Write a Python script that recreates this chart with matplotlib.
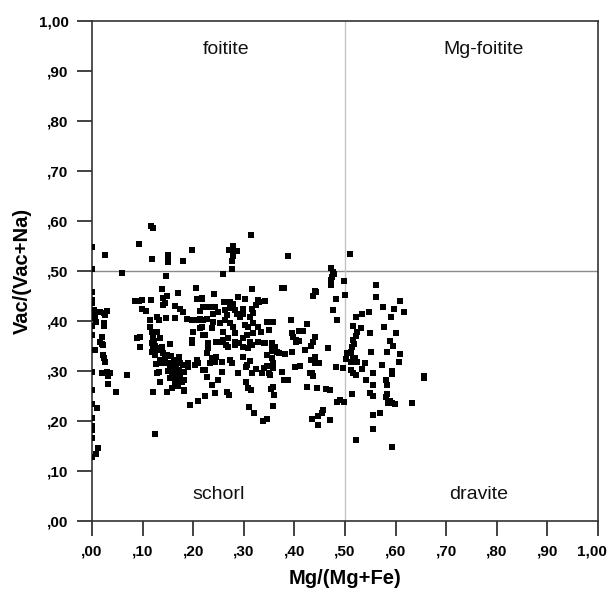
import numpy as np
import matplotlib
matplotlib.use("Agg")
import matplotlib.pyplot as plt
import matplotlib.transforms as mtransforms
from matplotlib.ticker import FuncFormatter

plt.rcParams['font.family'] = ['Liberation Sans', 'DejaVu Sans']

# ---- dati (Mg/(Mg+Fe), Vac/(Vac+Na)) ----
# colonna vicino a x = 0
pts_zero = [
    (0.0, 0.547), (0.0, 0.503), (0.0, 0.458), (0.0, 0.441), (0.0, 0.435),
    (0.003, 0.421), (0.005, 0.413), (0.016, 0.418), (0.006, 0.405), (0.007, 0.398),
    (0.0, 0.390), (0.0, 0.371), (0.005, 0.341), (0.0, 0.298), (0.0, 0.261),
    (0.0, 0.233), (0.009, 0.226), (0.0, 0.205), (0.0, 0.189), (0.0, 0.182),
    (0.0, 0.166), (0.012, 0.146), (0.0, 0.128), (0.008, 0.133),
]
# x tra 0.01 e 0.10
pts_low = [
    (0.026, 0.532), (0.024, 0.415), (0.029, 0.419), (0.026, 0.411), (0.024, 0.395),
    (0.024, 0.389), (0.019, 0.367), (0.016, 0.358), (0.022, 0.351), (0.019, 0.353),
    (0.022, 0.331), (0.024, 0.325), (0.026, 0.318), (0.019, 0.295), (0.029, 0.298),
    (0.036, 0.295), (0.031, 0.289), (0.032, 0.273), (0.047, 0.257), (0.059, 0.496),
    (0.069, 0.291), (0.085, 0.439), (0.098, 0.442), (0.092, 0.440), (0.088, 0.365),
    (0.095, 0.367), (0.095, 0.347), (0.098, 0.424),
]
# sopra la linea 0.50, parte sinistra
pts_top = [
    (0.092, 0.554), (0.116, 0.589), (0.121, 0.585), (0.119, 0.524), (0.151, 0.532),
    (0.151, 0.524), (0.151, 0.518), (0.179, 0.520), (0.197, 0.542), (0.146, 0.489),
    (0.124, 0.174),
]
# gruppo denso x 0.10 - 0.22
pts_left = [
    (0.138, 0.463), (0.169, 0.456), (0.205, 0.466), (0.116, 0.441), (0.140, 0.446),
    (0.148, 0.450), (0.141, 0.431), (0.145, 0.436), (0.165, 0.429), (0.207, 0.443),
    (0.217, 0.446), (0.107, 0.419), (0.128, 0.408), (0.132, 0.402), (0.146, 0.406),
    (0.174, 0.424), (0.180, 0.418), (0.165, 0.406), (0.187, 0.404), (0.197, 0.402),
    (0.207, 0.402), (0.213, 0.404), (0.220, 0.428), (0.213, 0.420), (0.115, 0.401),
    (0.115, 0.388), (0.118, 0.378), (0.128, 0.378), (0.121, 0.368), (0.134, 0.365),
    (0.200, 0.378), (0.197, 0.361), (0.217, 0.388), (0.220, 0.371), (0.213, 0.385),
    (0.118, 0.355), (0.121, 0.345), (0.118, 0.338), (0.125, 0.331), (0.130, 0.341),
    (0.138, 0.348), (0.141, 0.335), (0.148, 0.331), (0.156, 0.329), (0.171, 0.328),
    (0.154, 0.353), (0.134, 0.321), (0.138, 0.315), (0.126, 0.313), (0.151, 0.315),
    (0.159, 0.316), (0.165, 0.320), (0.174, 0.315), (0.180, 0.311), (0.190, 0.315),
    (0.167, 0.308), (0.161, 0.305), (0.171, 0.301), (0.177, 0.298), (0.164, 0.298),
    (0.154, 0.303), (0.158, 0.295), (0.167, 0.291), (0.174, 0.288), (0.182, 0.298),
    (0.161, 0.287), (0.167, 0.281), (0.177, 0.278), (0.164, 0.275), (0.159, 0.266),
    (0.182, 0.261), (0.128, 0.295), (0.132, 0.298), (0.134, 0.278), (0.121, 0.258),
    (0.148, 0.257), (0.194, 0.232), (0.210, 0.240), (0.197, 0.355), (0.207, 0.321),
    (0.210, 0.316), (0.204, 0.311), (0.220, 0.301), (0.184, 0.311), (0.190, 0.308),
    (0.182, 0.281), (0.182, 0.260), (0.160, 0.310), (0.170, 0.295), (0.155, 0.285),
    (0.170, 0.270), (0.150, 0.300), (0.162, 0.322), (0.145, 0.325), (0.122, 0.360),
    (0.125, 0.350), (0.128, 0.345), (0.120, 0.370),
]
# gruppo centrale x 0.22 - 0.46
pts_mid = [
    (0.314, 0.572), (0.278, 0.549), (0.271, 0.541), (0.280, 0.540), (0.286, 0.539),
    (0.278, 0.529), (0.276, 0.520), (0.277, 0.504), (0.258, 0.494), (0.388, 0.530),
    (0.316, 0.463), (0.375, 0.465), (0.379, 0.466), (0.441, 0.459), (0.437, 0.449),
    (0.241, 0.453), (0.217, 0.444), (0.261, 0.438), (0.266, 0.438), (0.272, 0.437),
    (0.278, 0.434), (0.289, 0.448), (0.302, 0.443), (0.329, 0.441), (0.342, 0.439),
    (0.243, 0.428), (0.231, 0.427), (0.250, 0.418), (0.263, 0.421), (0.273, 0.426),
    (0.283, 0.421), (0.298, 0.424), (0.316, 0.424), (0.331, 0.438), (0.324, 0.431),
    (0.319, 0.415), (0.312, 0.408), (0.299, 0.413), (0.292, 0.408), (0.286, 0.413),
    (0.266, 0.411), (0.240, 0.413), (0.227, 0.404), (0.220, 0.401), (0.240, 0.398),
    (0.253, 0.395), (0.263, 0.401), (0.273, 0.395), (0.279, 0.388), (0.302, 0.391),
    (0.309, 0.388), (0.319, 0.395), (0.329, 0.388), (0.345, 0.398), (0.358, 0.398),
    (0.393, 0.401), (0.424, 0.393), (0.410, 0.379), (0.418, 0.379), (0.395, 0.375),
    (0.398, 0.368), (0.404, 0.361), (0.349, 0.381), (0.335, 0.378), (0.319, 0.375),
    (0.306, 0.371), (0.299, 0.365), (0.283, 0.375), (0.259, 0.378), (0.237, 0.385),
    (0.223, 0.371), (0.246, 0.358), (0.252, 0.358), (0.269, 0.365), (0.283, 0.358),
    (0.312, 0.358), (0.329, 0.358), (0.342, 0.355), (0.355, 0.355), (0.437, 0.358),
    (0.441, 0.368), (0.230, 0.355), (0.230, 0.345), (0.253, 0.358), (0.259, 0.361),
    (0.264, 0.352), (0.269, 0.347), (0.283, 0.352), (0.290, 0.355), (0.299, 0.348),
    (0.309, 0.345), (0.316, 0.351), (0.339, 0.355), (0.355, 0.350), (0.362, 0.347),
    (0.365, 0.338), (0.356, 0.340), (0.345, 0.331), (0.355, 0.325), (0.370, 0.336),
    (0.381, 0.333), (0.395, 0.338), (0.403, 0.357), (0.410, 0.359), (0.421, 0.341),
    (0.433, 0.350), (0.441, 0.328), (0.432, 0.322), (0.441, 0.316), (0.449, 0.315),
    (0.227, 0.336), (0.238, 0.325), (0.246, 0.328), (0.233, 0.315), (0.243, 0.318),
    (0.256, 0.318), (0.273, 0.321), (0.276, 0.316), (0.299, 0.328), (0.312, 0.320),
    (0.306, 0.311), (0.304, 0.307), (0.325, 0.303), (0.316, 0.295), (0.339, 0.305),
    (0.345, 0.309), (0.349, 0.295), (0.352, 0.291), (0.336, 0.295), (0.357, 0.305),
    (0.358, 0.315), (0.375, 0.298), (0.379, 0.281), (0.388, 0.281), (0.401, 0.307),
    (0.412, 0.309), (0.431, 0.295), (0.256, 0.298), (0.223, 0.301), (0.227, 0.287),
    (0.288, 0.295), (0.250, 0.281), (0.237, 0.271), (0.304, 0.278), (0.308, 0.265),
    (0.314, 0.262), (0.358, 0.268), (0.354, 0.263), (0.360, 0.251), (0.243, 0.256),
    (0.223, 0.250), (0.266, 0.258), (0.270, 0.251), (0.424, 0.268), (0.444, 0.265),
    (0.311, 0.228), (0.321, 0.216), (0.357, 0.230), (0.338, 0.200), (0.346, 0.203),
    (0.434, 0.203), (0.447, 0.192), (0.447, 0.210), (0.454, 0.216), (0.457, 0.222),
    (0.462, 0.263), (0.470, 0.261), (0.434, 0.296), (0.436, 0.290),
]
# vicino a x = 0.50
pts_line = [
    (0.472, 0.506), (0.477, 0.498), (0.478, 0.493), (0.474, 0.488), (0.472, 0.481),
    (0.472, 0.472), (0.499, 0.480), (0.500, 0.451), (0.482, 0.444), (0.477, 0.422),
    (0.484, 0.402), (0.443, 0.458), (0.467, 0.345), (0.482, 0.308), (0.497, 0.306),
    (0.484, 0.237), (0.490, 0.241), (0.498, 0.238), (0.470, 0.202),
]
# campo della dravite (x > 0.50)
pts_right = [
    (0.510, 0.533), (0.561, 0.471), (0.562, 0.448), (0.609, 0.440), (0.617, 0.418),
    (0.576, 0.428), (0.597, 0.424), (0.590, 0.408), (0.547, 0.418), (0.533, 0.413),
    (0.521, 0.407), (0.577, 0.388), (0.601, 0.376), (0.549, 0.376), (0.515, 0.389),
    (0.531, 0.386), (0.523, 0.378), (0.522, 0.369), (0.515, 0.361), (0.518, 0.353),
    (0.513, 0.348), (0.589, 0.360), (0.594, 0.350), (0.511, 0.337), (0.503, 0.335),
    (0.551, 0.337), (0.584, 0.338), (0.609, 0.333), (0.502, 0.323), (0.515, 0.325),
    (0.519, 0.325), (0.523, 0.318), (0.511, 0.318), (0.540, 0.315), (0.607, 0.318),
    (0.512, 0.302), (0.515, 0.296), (0.534, 0.303), (0.573, 0.311), (0.522, 0.291),
    (0.555, 0.296), (0.592, 0.299), (0.592, 0.294), (0.541, 0.281), (0.555, 0.271),
    (0.582, 0.281), (0.583, 0.271), (0.656, 0.290), (0.657, 0.285), (0.513, 0.253),
    (0.549, 0.255), (0.555, 0.250), (0.584, 0.253), (0.582, 0.248), (0.585, 0.235),
    (0.588, 0.240), (0.592, 0.236), (0.598, 0.234), (0.632, 0.235), (0.556, 0.212),
    (0.569, 0.216), (0.555, 0.184), (0.521, 0.162), (0.593, 0.147),
]

campi = ["foitite", "Mg-foitite", "schorl", "dravite"]
campi_x = [0.265, 0.773, 0.251, 0.765]
campi_y = [0.934, 0.934, 0.043, 0.043]
tick_vals = [0.0, 0.1, 0.2, 0.3, 0.4, 0.5, 0.6, 0.7, 0.8, 0.9, 1.0]

tutti = np.array(pts_zero + pts_low + pts_top + pts_left + pts_mid + pts_line + pts_right)

#==========================================================================

def formato_virgola(v, pos):
    s = "%.2f" % v
    s = s.replace(".", ",")
    if s.startswith("0"):
        s = s[1:]
    return s

fig = plt.figure(figsize=(6.1, 5.9), dpi=100)
ax = fig.add_axes([0.1508, 0.117, 0.8295, 0.848])

ax.axhline(0.5, color="#8a8a8a", lw=1.0, zorder=1)
ax.axvline(0.5, color="#c4c4c4", lw=1.0, zorder=1)

ax.scatter(tutti[:, 0], tutti[:, 1], marker="s", s=15, c="black", linewidths=0, zorder=3)

for nome, cx, cy in zip(campi, campi_x, campi_y):
    ax.text(cx, cy, nome, fontsize=14, ha="center", va="baseline", color="#111111")

ax.set_xlim(0, 1)
ax.set_ylim(0, 1)
ax.set_xticks(tick_vals)
ax.set_yticks(tick_vals)
ax.xaxis.set_major_formatter(FuncFormatter(formato_virgola))
ax.yaxis.set_major_formatter(FuncFormatter(formato_virgola))
ax.tick_params(direction="out", length=10.8, width=1.2, color="#222222",
               labelsize=11, pad=6)
for lab in ax.get_xticklabels() + ax.get_yticklabels():
    lab.set_fontweight("bold")

# l'ultima etichetta (1,00) tocca il bordo: la sposto un poco a sinistra
sposta = mtransforms.ScaledTranslation(-4 / 72, 0, fig.dpi_scale_trans)
ultima = ax.get_xticklabels()[-1]
ultima.set_transform(ultima.get_transform() + sposta)

for sp in ax.spines.values():
    sp.set_linewidth(1.2)
    sp.set_color("#333333")

ax.set_xlabel("Mg/(Mg+Fe)", fontsize=14.5, fontweight="bold", labelpad=8)
ax.set_ylabel("Vac/(Vac+Na)", fontsize=14.5, fontweight="bold", labelpad=5)

fig.savefig("out.png", dpi=100)
